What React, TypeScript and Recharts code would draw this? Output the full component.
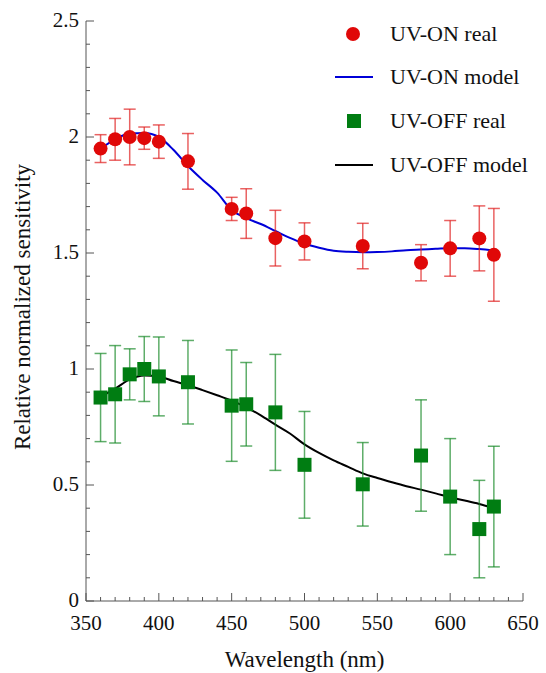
import React from "react";
import { ComposedChart, Line, Scatter, XAxis, YAxis, ErrorBar, Legend } from "recharts";

// measured wavelengths (nm)
const wavelengths = [360, 370, 380, 390, 400, 420, 450, 460, 480, 500, 540, 580, 600, 620, 630];
const uvOnReal = [1.95, 1.99, 2.0, 1.995, 1.98, 1.895, 1.69, 1.67, 1.564, 1.55, 1.53, 1.458, 1.52, 1.563, 1.492];
const uvOnErr = [0.06, 0.09, 0.12, 0.048, 0.072, 0.12, 0.05, 0.107, 0.12, 0.08, 0.098, 0.078, 0.12, 0.14, 0.2];
const uvOffReal = [0.877, 0.891, 0.977, 1.0, 0.968, 0.943, 0.842, 0.848, 0.813, 0.587, 0.503, 0.627, 0.45, 0.31, 0.407];
const uvOffErr = [0.19, 0.21, 0.11, 0.14, 0.17, 0.18, 0.24, 0.18, 0.25, 0.23, 0.18, 0.24, 0.25, 0.21, 0.26];

// model curves
const modelWavelengths = [
  360, 370, 380, 390, 400, 410, 420, 430, 440, 450, 460, 470, 480, 490,
  500, 510, 520, 530, 540, 550, 560, 570, 580, 590, 600, 610, 620, 630,
];
const uvOnModel = [
  1.95, 1.99, 2.015, 2.017, 2.0, 1.945, 1.875, 1.815, 1.76, 1.685, 1.65, 1.625, 1.595, 1.565,
  1.54, 1.523, 1.51, 1.505, 1.503, 1.504, 1.507, 1.512, 1.515, 1.518, 1.521, 1.521, 1.517, 1.51,
];
const uvOffModel = [
  0.88, 0.915, 0.955, 0.972, 0.968, 0.948, 0.93, 0.909, 0.887, 0.864, 0.835, 0.8, 0.76, 0.722,
  0.675, 0.638, 0.606, 0.578, 0.55, 0.53, 0.512, 0.495, 0.48, 0.464, 0.447, 0.433, 0.418, 0.4,
];

const xTicks = [
  350, 360, 370, 380, 390, 400, 410, 420, 430, 440, 450, 460, 470, 480, 490, 500,
  510, 520, 530, 540, 550, 560, 570, 580, 590, 600, 610, 620, 630, 640, 650,
];
const yTicks = [
  0, 0.1, 0.2, 0.3, 0.4, 0.5, 0.6, 0.7, 0.8, 0.9, 1, 1.1, 1.2, 1.3, 1.4, 1.5,
  1.6, 1.7, 1.8, 1.9, 2, 2.1, 2.2, 2.3, 2.4, 2.5,
];

const onPoints = wavelengths.map((x, i) => ({ x, y: uvOnReal[i], err: uvOnErr[i] }));
const offPoints = wavelengths.map((x, i) => ({ x, y: uvOffReal[i], err: uvOffErr[i] }));
const onModel = modelWavelengths.map((x, i) => ({ x, y: uvOnModel[i] }));
const offModel = modelWavelengths.map((x, i) => ({ x, y: uvOffModel[i] }));

const FONT = '"Liberation Serif", "DejaVu Serif", serif';
const AXIS = "#555";

const XTick = ({ x, y, payload }: any) => {
  const major = payload.value % 50 === 0;
  return (
    <g>
      <line x1={x} x2={x} y1={y} y2={y - (major ? 8 : 4)} stroke={AXIS} strokeWidth={1} />
      {major && (
        <text x={x} y={y + 29} textAnchor="middle" style={{ fontFamily: FONT }} fontSize={21} fill="#111">
          {payload.value}
        </text>
      )}
    </g>
  );
};

const YTick = ({ x, y, payload }: any) => {
  const major = Math.abs(payload.value * 2 - Math.round(payload.value * 2)) < 1e-6;
  return (
    <g>
      <line x1={x} x2={x + (major ? 8 : 4)} y1={y} y2={y} stroke={AXIS} strokeWidth={1} />
      {major && (
        <text x={x - 7} y={y + 6} textAnchor="end" style={{ fontFamily: FONT }} fontSize={21} fill="#111">
          {String(payload.value)}
        </text>
      )}
    </g>
  );
};

const Dot = ({ cx, cy }: any) => <circle cx={cx} cy={cy} r={7} fill="#e00808" />;
const Square = ({ cx, cy }: any) => <rect x={cx - 7} y={cy - 7} width={14} height={14} fill="#007d12" />;

const legendItems = [
  { label: "UV-ON real", icon: <circle cx={23} cy={10} r={7} fill="#e00808" /> },
  { label: "UV-ON model", icon: <line x1={5} x2={43} y1={10} y2={10} stroke="#0000d8" strokeWidth={2} /> },
  { label: "UV-OFF real", icon: <rect x={17} y={3} width={14} height={14} fill="#007d12" /> },
  { label: "UV-OFF model", icon: <line x1={5} x2={43} y1={10} y2={10} stroke="#000" strokeWidth={2} /> },
];

const renderLegend = () => (
  <div style={{ fontFamily: FONT, fontSize: 22, color: "#111" }}>
    {legendItems.map((it) => (
      <div key={it.label} style={{ display: "flex", alignItems: "center", height: 43.6 }}>
        <svg width={60} height={20}>{it.icon}</svg>
        <span style={{ whiteSpace: "nowrap" }}>{it.label}</span>
      </div>
    ))}
  </div>
);

export default function App() {
  return (
    <div style={{ position: "absolute", left: 0, top: 0, background: "#fff", fontFamily: FONT }}>
      <ComposedChart width={546} height={673} margin={{ top: 21, right: 23, bottom: 0, left: 0 }}>
        <XAxis
          type="number"
          dataKey="x"
          domain={[350, 650]}
          ticks={xTicks}
          interval={0}
          tickSize={0}
          tickMargin={0}
          tickLine={false}
          tick={<XTick />}
          axisLine={{ stroke: AXIS }}
          height={72}
          allowDataOverflow
          label={{
            content: ({ viewBox }: any) => (
              <text
                x={viewBox.x + viewBox.width / 2}
                y={viewBox.y + 66}
                textAnchor="middle"
                style={{ fontFamily: FONT }}
                fontSize={23}
                fill="#111"
              >
                Wavelength (nm)
              </text>
            ),
          }}
        />
        <YAxis
          type="number"
          domain={[0, 2.5]}
          ticks={yTicks}
          interval={0}
          tickSize={0}
          tickMargin={0}
          tickLine={false}
          tick={<YTick />}
          axisLine={{ stroke: AXIS }}
          width={86}
          allowDataOverflow
          label={{
            content: ({ viewBox }: any) => {
              const cx = 22;
              const cy = viewBox.y + viewBox.height / 2 - 4;
              return (
                <text
                  x={cx}
                  y={cy}
                  transform={`rotate(-90 ${cx} ${cy})`}
                  textAnchor="middle"
                  dominantBaseline="central"
                  style={{ fontFamily: FONT }}
                  fontSize={23}
                  fill="#111"
                >
                  Relative normalized sensitivity
                </text>
              );
            },
          }}
        />
        <Line
          data={onModel}
          dataKey="y"
          type="monotone"
          stroke="#0000d8"
          strokeWidth={2}
          dot={false}
          isAnimationActive={false}
        />
        <Line
          data={offModel}
          dataKey="y"
          type="monotone"
          stroke="#000"
          strokeWidth={2}
          dot={false}
          isAnimationActive={false}
        />
        <Scatter data={onPoints} dataKey="y" shape={<Dot />} isAnimationActive={false}>
          <ErrorBar dataKey="err" direction="y" width={6} stroke="#e02020" strokeOpacity={0.7} strokeWidth={1.5} />
        </Scatter>
        <Scatter data={offPoints} dataKey="y" shape={<Square />} isAnimationActive={false}>
          <ErrorBar dataKey="err" direction="y" width={6} stroke="#1a8a2a" strokeOpacity={0.7} strokeWidth={1.5} />
        </Scatter>
        <Legend
          layout="vertical"
          align="center"
          verticalAlign="middle"
          content={renderLegend}
          wrapperStyle={{ left: 330, top: 12, width: 216 }}
        />
      </ComposedChart>
    </div>
  );
}
